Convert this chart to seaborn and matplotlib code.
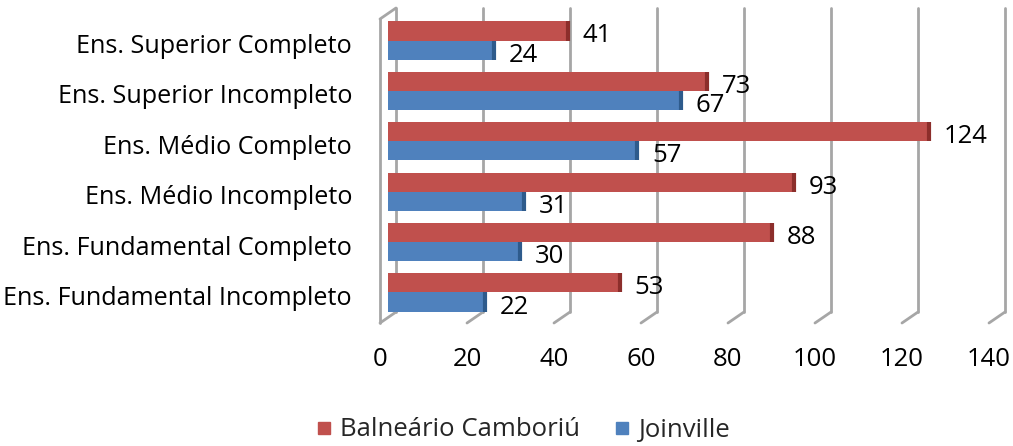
import numpy as np
import pandas as pd
import matplotlib
matplotlib.use("Agg")
import matplotlib.pyplot as plt
import seaborn as sns
from matplotlib.transforms import ScaledTranslation, blended_transform_factory
from matplotlib.lines import Line2D

# dados
niveis = ["Ens. Superior Completo", "Ens. Superior Incompleto", "Ens. Médio Completo",
          "Ens. Médio Incompleto", "Ens. Fundamental Completo", "Ens. Fundamental Incompleto"]
balneario = [41, 73, 124, 93, 88, 53]
joinville = [24, 67, 57, 31, 30, 22]
cidades = ["Balneário Camboriú", "Joinville"]
xticks = [0, 20, 40, 60, 80, 100, 120, 140]

red = "#C0504D"
blue = "#4F81BD"
dark = {red: "#8C2E2B", blue: "#2E5B8C"}
grid = "#A6A6A6"

df = pd.DataFrame({
    "nivel": niveis * 2,
    "valor": balneario + joinville,
    "cidade": [cidades[0]] * 6 + [cidades[1]] * 6,
})

sns.set_style("white")
plt.rcParams["font.family"] = ["Open Sans", "DejaVu Sans"]
fs = 18.5

fig = plt.figure(figsize=(10.13, 4.46), dpi=100)
ax = fig.add_axes([388 / 1013, 1 - 312 / 446, 609 / 1013, 304 / 446])

sns.barplot(data=df, y="nivel", x="valor", hue="cidade", hue_order=cidades,
            palette=[red, blue], saturation=1, orient="h", width=0.76, linewidth=0,
            legend=False, ax=ax)

ax.set_xlim(0, 140)
ax.set_ylim(5.387, -0.645)
ax.set_xticks([])
ax.set_yticks([])
ax.set_xlabel("")
ax.set_ylabel("")
for s in ax.spines.values():
    s.set_visible(False)

def px(dx, dy):
    return ScaledTranslation(dx / 100, dy / 100, fig.dpi_scale_trans)

k = 140 / 609          # data units per pixel (x)
fy = 1 / 304           # axes units per pixel (y)
tr = blended_transform_factory(ax.transData, ax.transAxes)

# back wall grid + floor slants
for v in xticks:
    ax.plot([v + 8 * k, v + 8 * k], [0, 1], transform=tr, color=grid, lw=2,
            clip_on=False, zorder=0)
    ax.plot([v + 8 * k, v - 8 * k], [0, -11 * fy], transform=tr, color=grid, lw=2,
            clip_on=False, zorder=0)
    ax.text(v - 8 * k, -48 * fy, str(v), transform=tr, ha="center", va="center",
            fontsize=fs, color="#000000")

# left wall
ax.plot([-8 * k, -8 * k], [-11 * fy, 1 - 11 * fy], transform=tr, color=grid, lw=2, clip_on=False, zorder=0)
ax.plot([-8 * k, 8 * k], [1 - 11 * fy, 1], transform=tr, color=grid, lw=2, clip_on=False, zorder=0)

# bar caps and value labels
for p in ax.patches:
    w = p.get_width()
    if w <= 0:
        continue
    y0, h = p.get_y(), p.get_height()
    col = matplotlib.colors.to_hex(p.get_facecolor()).upper()
    ax.plot([w, w], [y0, y0 + h], transform=ax.transData + px(1.5, 0),
            color=dark.get(col, "#555555"), lw=3, solid_capstyle="butt",
            clip_on=False)
    ax.annotate(f"{w:.0f}", (w, y0 + h / 2), xytext=(16, -5), textcoords="offset pixels",
                ha="left", va="center", fontsize=fs, color="#000000")

# category labels
ty = blended_transform_factory(ax.transAxes, ax.transData)
for i, n in enumerate(niveis):
    ax.text(-36 / 609, i + 0.12, n, transform=ty, ha="right", va="center",
            fontsize=18.1, color="#000000")

handles = [Line2D([], [], marker="s", ls="", color=c, markersize=9) for c in [red, blue]]
fig.legend(handles, cidades, loc="center", bbox_to_anchor=(523 / 1013, 1 - 430 / 446),
           ncol=2, frameon=False, fontsize=fs, handlelength=0.6, handletextpad=0.35,
           columnspacing=1.3)

fig.savefig("out.png", dpi=100)
